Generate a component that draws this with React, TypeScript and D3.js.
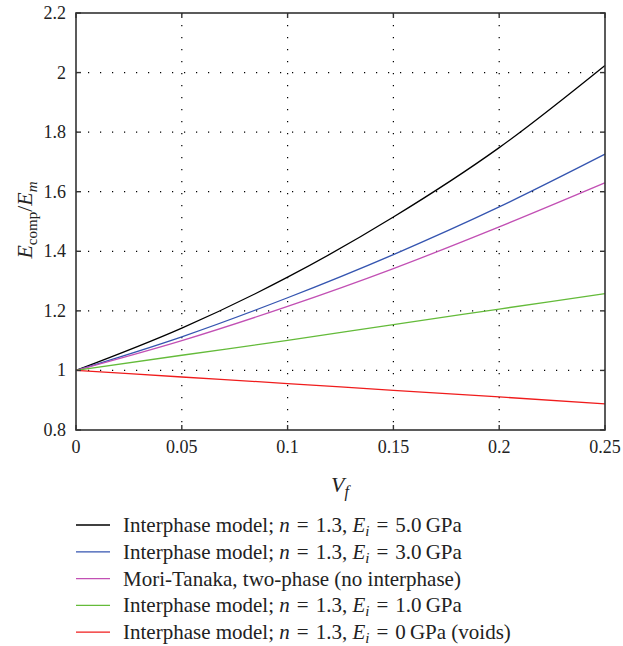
import React from "react";
import * as d3 from "d3";

const vf = [0, 0.05, 0.1, 0.15, 0.2, 0.25];
const black = [1, 1.142, 1.313, 1.515, 1.748, 2.024];
const blue = [1, 1.113, 1.244, 1.389, 1.549, 1.726];
const magenta = [1, 1.1, 1.215, 1.342, 1.482, 1.63];
const green = [1, 1.051, 1.101, 1.154, 1.206, 1.258];
const red = [1, 0.978, 0.956, 0.933, 0.911, 0.888];

const xTicks = [0, 0.05, 0.1, 0.15, 0.2, 0.25];
const yTicks = [0.8, 1, 1.2, 1.4, 1.6, 1.8, 2, 2.2];
const xTickLabels = ["0", "0.05", "0.1", "0.15", "0.2", "0.25"];
const yTickLabels = ["0.8", "1", "1.2", "1.4", "1.6", "1.8", "2", "2.2"];

const seriesColors = ["#000000", "#3555b0", "#c250b4", "#64bb3a", "#f01c1c"];
const seriesValues = [black, blue, magenta, green, red];
const legendEi = ["5.0", "3.0", null, "1.0", "0"];

const W = 623, H = 646;
const L = 76, R = 605, T = 13, B = 430;
const serif = "'Liberation Serif', 'Times New Roman', serif";

export default function App() {
  const x = d3.scaleLinear().domain([0, 0.25]).range([L, R]);
  const y = d3.scaleLinear().domain([0.8, 2.2]).range([B, T]);
  const line = d3
    .line<number>()
    .x((_, i) => x(vf[i]))
    .y((d) => y(d))
    .curve(d3.curveMonotoneX);

  const tick = 5;
  const eq = "\u2004=\u2004";
  return (
    <svg width={W} height={H} style={{ position: "absolute", left: 0, top: 0 }} fontFamily={serif}>
      {xTicks.slice(1, -1).map((t) => (
        <line key={"gx" + t} x1={x(t)} x2={x(t)} y1={T} y2={B} stroke="#000" strokeWidth={1.2} strokeDasharray="1.2,10.8" />
      ))}
      {yTicks.slice(1, -1).map((t) => (
        <line key={"gy" + t} x1={L} x2={R} y1={y(t)} y2={y(t)} stroke="#000" strokeWidth={1.2} strokeDasharray="1.2,10.8" />
      ))}
      {seriesValues.map((s, i) => (
        <path key={"s" + i} d={line(s) || ""} fill="none" stroke={seriesColors[i]} strokeWidth={1.3} />
      ))}
      <rect x={L} y={T} width={R - L} height={B - T} fill="none" stroke="#333" strokeWidth={1.6} />
      {xTicks.map((t) => (
        <g key={"tx" + t}>
          <line x1={x(t)} x2={x(t)} y1={B} y2={B - tick} stroke="#333" strokeWidth={1.4} />
          <line x1={x(t)} x2={x(t)} y1={T} y2={T + tick} stroke="#333" strokeWidth={1.4} />
        </g>
      ))}
      {yTicks.map((t) => (
        <g key={"ty" + t}>
          <line x1={L} x2={L + tick} y1={y(t)} y2={y(t)} stroke="#333" strokeWidth={1.4} />
          <line x1={R} x2={R - tick} y1={y(t)} y2={y(t)} stroke="#333" strokeWidth={1.4} />
        </g>
      ))}
      {xTicks.map((t, i) => (
        <text key={"lx" + t} x={x(t)} y={453} textAnchor="middle" fontSize={18} fill="#222">
          {xTickLabels[i]}
        </text>
      ))}
      {yTicks.map((t, i) => (
        <text key={"ly" + t} x={66} y={y(t) + 6} textAnchor="end" fontSize={18} fill="#222">
          {yTickLabels[i]}
        </text>
      ))}
      <text x={340} y={492} textAnchor="middle" fontSize={22} fill="#222" fontStyle="italic">
        V<tspan fontSize={16} dy={5}>f</tspan>
      </text>
      <text transform="translate(32,220) rotate(-90)" textAnchor="middle" fontSize={22} fill="#222">
        <tspan fontStyle="italic">E</tspan>
        <tspan fontSize={15} dy={5}>comp</tspan>
        <tspan dy={-5}>/</tspan>
        <tspan fontStyle="italic">E</tspan>
        <tspan fontSize={15} dy={5} fontStyle="italic">m</tspan>
      </text>
      {seriesColors.map((c, i) => {
        const cy = 525 + i * 26.8;
        const ei = legendEi[i];
        return (
          <g key={"lg" + i}>
            <line x1={76} x2={110} y1={cy} y2={cy} stroke={c} strokeWidth={1.3} />
            <text x={123} y={cy + 7} fontSize={21} fill="#222">
              {ei === null ? (
                "Mori-Tanaka, two-phase (no interphase)"
              ) : (
                <>
                  <tspan>Interphase model; </tspan>
                  <tspan fontStyle="italic">n</tspan>
                  <tspan>{eq + "1.3, "}</tspan>
                  <tspan fontStyle="italic">E</tspan>
                  <tspan fontStyle="italic" fontSize={15} dy={4}>i</tspan>
                  <tspan dy={-4}>{eq + ei + "\u2009GPa" + (ei === "0" ? " (voids)" : "")}</tspan>
                </>
              )}
            </text>
          </g>
        );
      })}
    </svg>
  );
}
